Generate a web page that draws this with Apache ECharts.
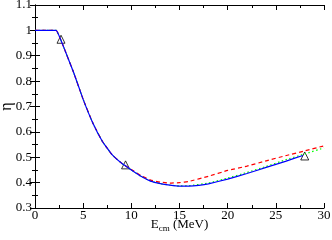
<!DOCTYPE html>
<html><head><meta charset="utf-8">
<script src="https://cdn.jsdelivr.net/npm/echarts@6/dist/echarts.min.js"></script>
<style>html,body{margin:0;padding:0;background:#fff}#c{width:332px;height:240px}</style>
</head><body><div id="c"></div>
<script>
const blueData = [[0,1.0],[2.2,1.0],[2.6,0.97],[3,0.932],[4,0.835],[5,0.728],[6,0.635],[7,0.562],[8,0.51],[9,0.476],[10,0.45],[11,0.425],[12,0.406],[13,0.396],[14,0.39],[15,0.386],[16,0.386],[17,0.389],[18,0.395],[20,0.414],[22,0.436],[24,0.46],[26,0.484],[27.8,0.507]];
const redData = [[0,1.0],[2.2,1.0],[2.6,0.97],[3,0.932],[4,0.835],[5,0.728],[6,0.635],[7,0.562],[8,0.51],[9,0.476],[10,0.452],[11,0.428],[12,0.41],[13,0.402],[14,0.398],[15,0.4],[16,0.405],[18,0.425],[20,0.448],[22,0.465],[24,0.486],[26,0.506],[28,0.525],[30,0.545]];
const greenData = [[0,1.0],[2.2,1.0],[2.6,0.97],[3,0.932],[4,0.835],[5,0.728],[6,0.635],[7,0.562],[8,0.51],[9,0.476],[10,0.45],[11,0.425],[12,0.406],[13,0.396],[14,0.39],[15,0.387],[16,0.388],[18,0.398],[20,0.418],[22,0.44],[24,0.464],[26,0.49],[28,0.513],[30,0.537]];
const triData = [[2.7,0.965],[9.4,0.47],[28,0.505]];
const xTicks = {min:0, max:30, interval:5};
const yTicks = {min:0.3, max:1.1, interval:0.1};

const font = 'Liberation Serif';
const chart = echarts.init(document.getElementById('c'));
const tickCommon = {show:true, inside:true, length:5, lineStyle:{color:'#000', width:1}};
const minorCommon = {show:true, splitNumber:2, length:3, lineStyle:{color:'#000', width:1}};
const axisLine = {show:true, lineStyle:{color:'#000', width:1}};
chart.setOption({
  animation:false,
  grid:{left:35, right:8, top:5, bottom:32, containLabel:false, outerBoundsMode:'none'},
  xAxis:[{
    type:'value', min:xTicks.min, max:xTicks.max, interval:xTicks.interval,
    axisLine:axisLine, axisTick:tickCommon, minorTick:minorCommon, splitLine:{show:false},
    axisLabel:{color:'#000', fontFamily:font, fontSize:13, margin:1},
    name:'{a|E}{b|cm} (MeV)', nameLocation:'middle', nameGap:9, nameMoveOverlap:false,
    nameTextStyle:{color:'#000', fontFamily:font, fontSize:13,
      rich:{a:{fontFamily:font, fontSize:13, color:'#000'}, b:{fontFamily:font, fontSize:9, color:'#000', padding:[7,0,0,0]}}}
  },{
    type:'value', position:'top', min:xTicks.min, max:xTicks.max, interval:xTicks.interval,
    axisLine:axisLine, axisTick:tickCommon, minorTick:minorCommon, splitLine:{show:false}, axisLabel:{show:false}
  }],
  yAxis:[{
    type:'value', min:yTicks.min, max:yTicks.max, interval:yTicks.interval,
    axisLine:axisLine, axisTick:tickCommon, minorTick:minorCommon, splitLine:{show:false},
    axisLabel:{color:'#000', fontFamily:font, fontSize:13, margin:3, formatter:v=>String(Math.round(v*10)/10)},
    name:'η', nameLocation:'middle', nameGap:20, nameRotate:90, nameMoveOverlap:false,
    nameTextStyle:{color:'#000', fontFamily:font, fontSize:16}
  },{
    type:'value', position:'right', min:yTicks.min, max:yTicks.max, interval:yTicks.interval,
    axisLine:axisLine, axisTick:tickCommon, minorTick:minorCommon, splitLine:{show:false}, axisLabel:{show:false}
  }],
  series:[
    {type:'line', data:greenData, showSymbol:false, smooth:0.1, lineStyle:{color:'#00ff00', width:1.2, type:[1.5,2.5]}},
    {type:'line', data:redData, showSymbol:false, smooth:0.1, lineStyle:{color:'#ff0000', width:1.2, type:[4,3]}},
    {type:'line', data:blueData, showSymbol:false, smooth:0.1, lineStyle:{color:'#0000ff', width:1.2}},
    {type:'scatter', data:triData, symbol:'triangle', symbolSize:8, itemStyle:{color:'rgba(0,0,0,0)', borderColor:'#000', borderWidth:1}}
  ]
});
</script></body></html>
